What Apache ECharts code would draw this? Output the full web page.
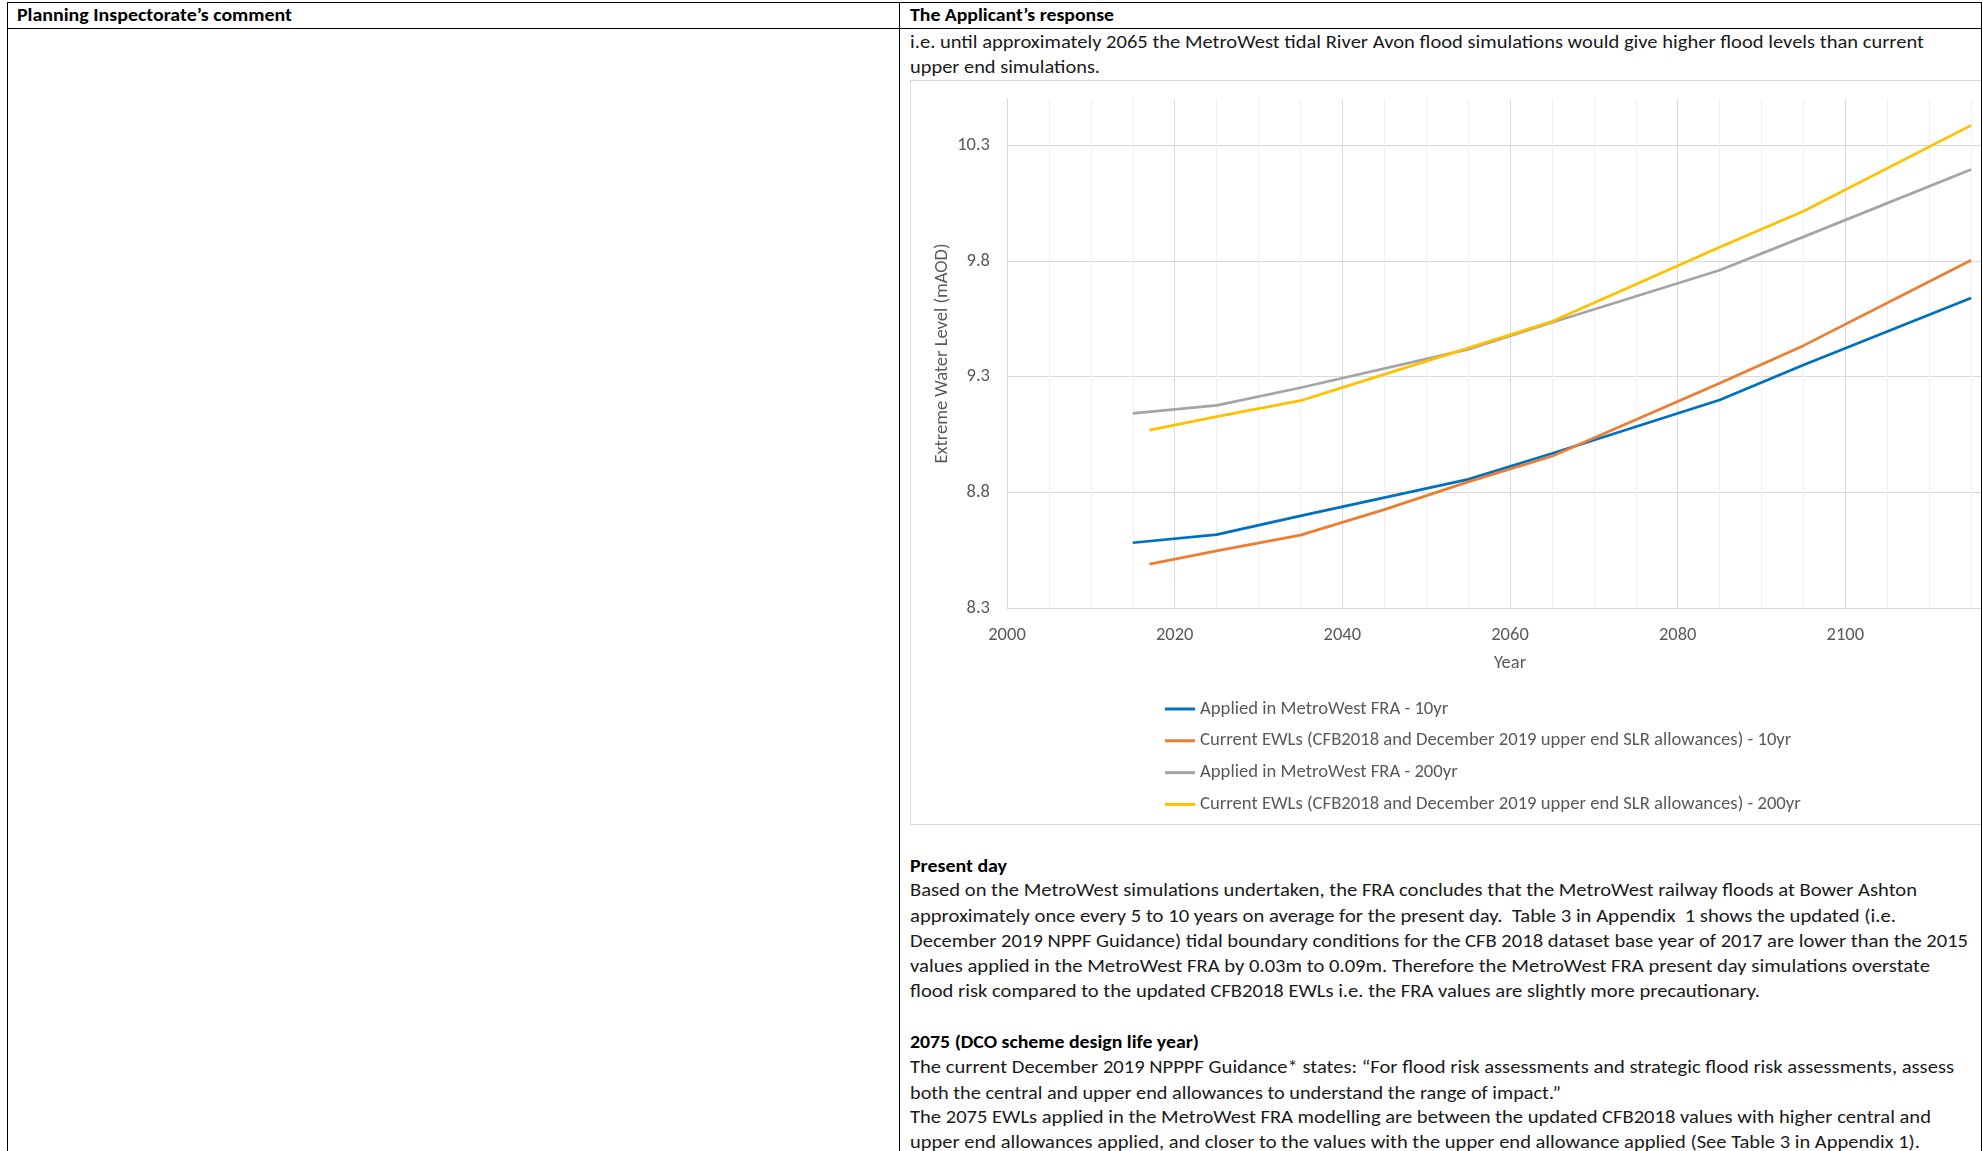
<!DOCTYPE html>
<html>
<head>
<meta charset="utf-8">
<script src="https://cdn.jsdelivr.net/npm/echarts@6/dist/echarts.min.js"></script>
<style>
html,body{margin:0;padding:0;background:#fff;}
body{width:1982px;height:1151px;overflow:hidden;position:relative;font-family:Carlito,Lato,'Open Sans',sans-serif;}
.ln{position:absolute;white-space:nowrap;font-size:17.5px;line-height:25px;height:25px;color:#1a1a1a;font-weight:400;transform-origin:0 50%;}
.b{font-weight:bold;color:#000;}
.rule{position:absolute;background:#000;z-index:5;}
#chartbox{position:absolute;left:910px;top:80px;width:1140px;height:743px;border:1px solid #D9D9D9;background:#fff;}
#chart{position:absolute;left:911px;top:81px;width:1130px;height:742px;}
</style>
</head>
<body>
<div id="chartbox"></div>
<div id="chart"></div>
<script>
// ---- chart data ----
const fraYears   = [2015, 2025, 2035, 2055, 2065, 2085, 2095, 2115];
const fra10      = [8.582, 8.617, 8.698, 8.856, 8.968, 9.199, 9.350, 9.640];
const fra200     = [9.141, 9.176, 9.252, 9.418, 9.534, 9.760, 9.904, 10.195];
const ewlYears   = [2017, 2025, 2035, 2045, 2055, 2065, 2085, 2095, 2115];
const ewl10      = [8.490, 8.547, 8.615, 8.725, 8.845, 8.956, 9.271, 9.434, 9.803];
const ewl200     = [9.069, 9.127, 9.196, 9.310, 9.423, 9.538, 9.859, 10.015, 10.386];
const seriesNames = [
  'Applied in MetroWest FRA - 10yr',
  'Current EWLs (CFB2018 and December 2019 upper end SLR allowances) - 10yr',
  'Applied in MetroWest FRA - 200yr',
  'Current EWLs (CFB2018 and December 2019 upper end SLR allowances) - 200yr'
];
const seriesColors = ['#0070C0', '#ED7D31', '#A5A5A5', '#FFC000'];
const xTitle = 'Year';
const yTitle = 'Extreme Water Level (mAOD)';

// ---- document text ----
const textLines = [
  {t:'Planning Inspectorate\u2019s comment', x:17, r:292, y:15, b:true},
  {t:'The Applicant\u2019s response', x:910, r:1114, y:15, b:true},
  {t:'i.e. until approximately 2065 the MetroWest tidal River Avon flood simulations would give higher flood levels than current', x:910, r:1924, y:42.5},
  {t:'upper end simulations.', x:910, r:1100, y:67.5},
  {t:'Present day', x:910, r:1007, y:866, b:true},
  {t:'Based on the MetroWest simulations undertaken, the FRA concludes that the MetroWest railway floods at Bower Ashton', x:910, r:1917, y:890.5},
  {t:'approximately once every 5 to 10 years on average for the present day.\u00a0 Table 3 in Appendix\u00a0 1 shows the updated (i.e.', x:910, r:1896, y:916},
  {t:'December 2019 NPPF Guidance) tidal boundary conditions for the CFB 2018 dataset base year of 2017 are lower than the 2015', x:910, r:1968, y:941},
  {t:'values applied in the MetroWest FRA by 0.03m to 0.09m. Therefore the MetroWest FRA present day simulations overstate', x:910, r:1930, y:966},
  {t:'flood risk compared to the updated CFB2018 EWLs i.e. the FRA values are slightly more precautionary.', x:910, r:1760, y:991.5},
  {t:'2075 (DCO scheme design life year)', x:910, r:1199, y:1042, b:true},
  {t:'The current December 2019 NPPPF Guidance* states: \u201cFor flood risk assessments and strategic flood risk assessments, assess', x:910, r:1954, y:1067.5},
  {t:'both the central and upper end allowances to understand the range of impact.\u201d', x:910, r:1561, y:1093},
  {t:'The 2075 EWLs applied in the MetroWest FRA modelling are between the updated CFB2018 values with higher central and', x:910, r:1931, y:1117.5},
  {t:'upper end allowances applied, and closer to the values with the upper end allowance applied (See Table 3 in Appendix 1).', x:910, r:1920, y:1142.5}
];

const FONT = 'Carlito, Lato, "Open Sans", sans-serif';

textLines.forEach(function (L) {
  const d = document.createElement('div');
  d.className = 'ln' + (L.b ? ' b' : '');
  d.textContent = L.t;
  d.style.left = L.x + 'px';
  d.style.top = (L.y - 12.5) + 'px';
  document.body.appendChild(d);
  const w = d.getBoundingClientRect().width;
  d.style.transform = 'scaleX(' + ((L.r - L.x) / w).toFixed(4) + ')';
});

// table rules
[[7, 2, 1975, 1], [7, 28, 1975, 1], [7, 2, 1, 1149], [899, 2, 1, 1149], [1981, 2, 1, 1149]].forEach(function (r) {
  const d = document.createElement('div');
  d.className = 'rule';
  d.style.left = r[0] + 'px'; d.style.top = r[1] + 'px';
  d.style.width = r[2] + 'px'; d.style.height = r[3] + 'px';
  document.body.appendChild(d);
});

// legend font size fitted to reference width of the longest entry
const cv = document.createElement('canvas').getContext('2d');
cv.font = '100px ' + FONT;
const legendFont = Math.min(20, 100 * 601 / cv.measureText(seriesNames[3]).width);

function pairs(xs, ys) { return xs.map(function (x, i) { return [x, ys[i]]; }); }
const seriesData = [pairs(fraYears, fra10), pairs(ewlYears, ewl10), pairs(fraYears, fra200), pairs(ewlYears, ewl200)];

const AX = '#595959';
const chart = echarts.init(document.getElementById('chart'), null, {renderer: 'canvas'});
chart.setOption({
  animation: false,
  backgroundColor: '#fff',
  textStyle: {fontFamily: FONT},
  grid: {left: 96, top: 18, right: 28, bottom: 215, containLabel: false},
  xAxis: {
    type: 'value', min: 2000, max: 2120, interval: 20,
    name: xTitle, nameLocation: 'middle', nameGap: 46, nameMoveOverlap: false,
    nameTextStyle: {color: AX, fontSize: 18.5, fontFamily: FONT},
    axisLine: {show: true, lineStyle: {color: '#D9D9D9', width: 1}},
    axisTick: {show: false},
    axisLabel: {color: AX, fontSize: 18.5, margin: 18, fontFamily: FONT, formatter: function (v) { return String(v); }},
    splitLine: {show: true, lineStyle: {color: '#D9D9D9', width: 1}},
    minorTick: {show: false, splitNumber: 4},
    minorSplitLine: {show: true, lineStyle: {color: '#F0F0F0', width: 1}}
  },
  yAxis: {
    type: 'value', min: 8.3, max: 10.5, interval: 0.5,
    name: yTitle, nameLocation: 'middle', nameGap: 55, nameMoveOverlap: false,
    nameTextStyle: {color: AX, fontSize: 18.5, fontFamily: FONT},
    axisLine: {show: true, lineStyle: {color: '#D9D9D9', width: 1}},
    axisTick: {show: false},
    axisLabel: {color: AX, fontSize: 18.5, margin: 17, fontFamily: FONT, showMaxLabel: false,
      formatter: function (v) { return (Math.round(v * 10) / 10).toFixed(1); }},
    splitLine: {show: true, showMaxLine: false, lineStyle: {color: '#D9D9D9', width: 1}}
  },
  legend: {
    orient: 'vertical', left: 254, top: 618, padding: 0,
    icon: 'rect', itemWidth: 30, itemHeight: 3, itemGap: 11.8,
    textStyle: {color: AX, fontSize: legendFont, lineHeight: 20, fontFamily: FONT},
    data: seriesNames
  },
  series: seriesNames.map(function (n, i) {
    return {
      name: n, type: 'line', data: seriesData[i], symbol: 'none', smooth: false,
      color: seriesColors[i],
      lineStyle: {color: seriesColors[i], width: 2.75}
    };
  })
});
</script>
</body>
</html>
